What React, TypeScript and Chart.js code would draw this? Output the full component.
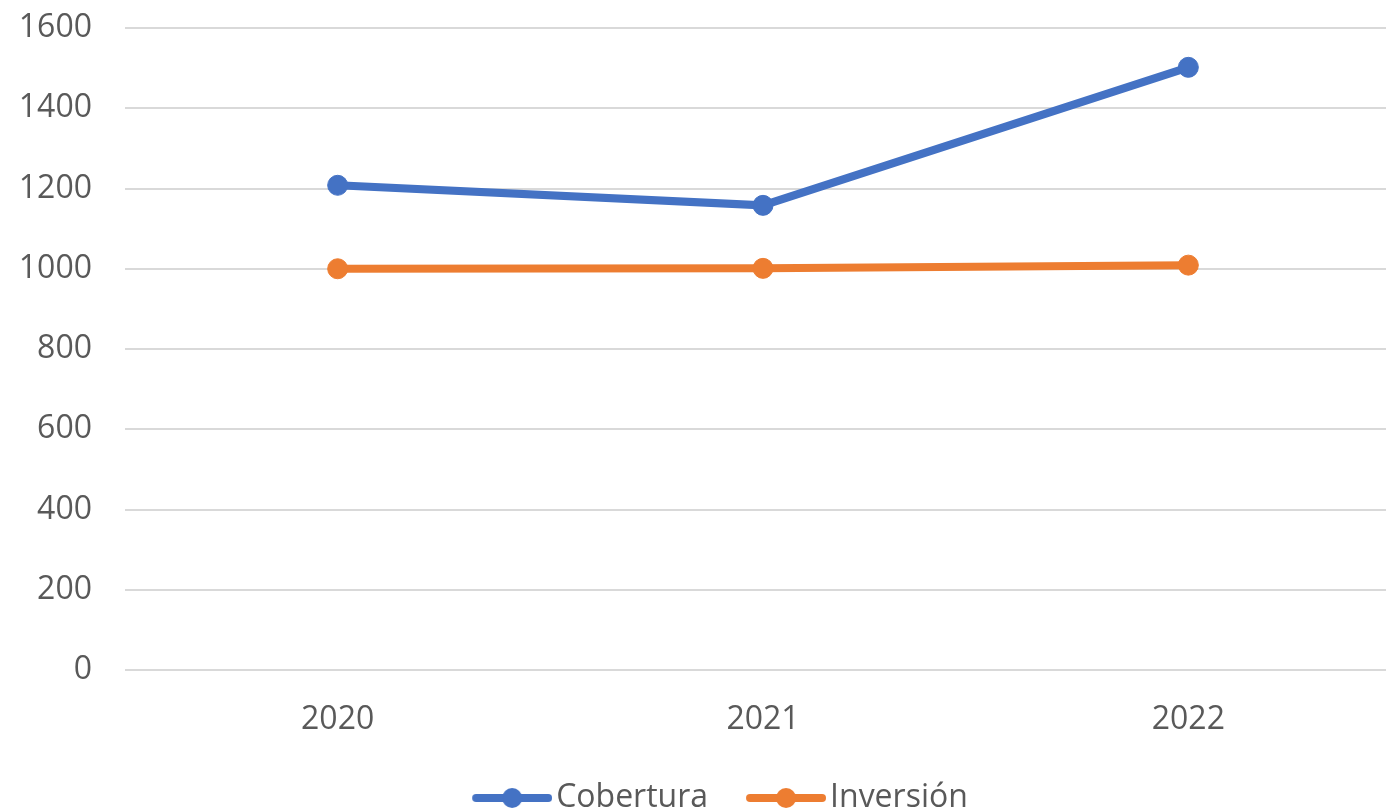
import React, { useEffect, useRef } from "react";
import { Chart, registerables } from "chart.js";

Chart.register(...registerables);

const years = ["2020", "2021", "2022"];
const cobertura = [1208, 1158, 1502];
const inversion = [1000, 1001, 1009];
const seriesNames = ["Cobertura", "Inversión"];
const seriesColors = ["#4472C4", "#ED7D31"];
const yTicks = { min: 0, max: 1600, step: 200 };

const FONT = "'Open Sans', 'Noto Sans', sans-serif";
const TEXT = "#595959";

function legendSwatch(color: string): HTMLCanvasElement {
  const c = document.createElement("canvas");
  c.width = 120;
  c.height = 24;
  const ctx = c.getContext("2d")!;
  ctx.strokeStyle = color;
  ctx.lineWidth = 8;
  ctx.lineCap = "round";
  ctx.beginPath();
  ctx.moveTo(44, 12);
  ctx.lineTo(116, 12);
  ctx.stroke();
  ctx.fillStyle = color;
  ctx.beginPath();
  ctx.arc(80, 12, 10, 0, Math.PI * 2);
  ctx.fill();
  return c;
}

export default function App() {
  const ref = useRef<HTMLCanvasElement | null>(null);

  useEffect(() => {
    if (!ref.current) return;
    const swatches = seriesColors.map(legendSwatch);
    const chart = new Chart(ref.current, {
      type: "line",
      data: {
        labels: years,
        datasets: [
          {
            label: seriesNames[0],
            data: cobertura,
            borderColor: seriesColors[0],
            backgroundColor: seriesColors[0],
            borderWidth: 8,
            pointRadius: 10,
            pointBorderWidth: 1,
            pointBackgroundColor: seriesColors[0],
            pointBorderColor: seriesColors[0],
            tension: 0,
          },
          {
            label: seriesNames[1],
            data: inversion,
            borderColor: seriesColors[1],
            backgroundColor: seriesColors[1],
            borderWidth: 8,
            pointRadius: 10,
            pointBorderWidth: 1,
            pointBackgroundColor: seriesColors[1],
            pointBorderColor: seriesColors[1],
            tension: 0,
          },
        ],
      },
      options: {
        responsive: false,
        animation: false,
        layout: { padding: { top: 28, left: 0, right: 0, bottom: 0 } },
        plugins: {
          tooltip: { enabled: false },
          legend: {
            position: "bottom",
            labels: {
              usePointStyle: true,
              pointStyleWidth: 96,
              padding: 10,
              color: TEXT,
              font: { family: FONT, size: 32 },
              generateLabels: (chart: any) =>
                chart.data.datasets.map((ds: any, i: number) => ({
                  text: ds.label,
                  fillStyle: ds.borderColor,
                  strokeStyle: ds.borderColor,
                  lineWidth: 0,
                  pointStyle: swatches[i],
                  hidden: false,
                  datasetIndex: i,
                  fontColor: TEXT,
                })),
            },
          },
        },
        scales: {
          x: {
            offset: true,
            grid: { display: false },
            border: { display: false },
            afterFit: (scale: any) => {
              scale.height = 102;
            },
            ticks: {
              color: TEXT,
              font: { family: FONT, size: 32 },
              padding: 23,
            },
          },
          y: {
            min: yTicks.min,
            max: yTicks.max,
            afterFit: (scale: any) => {
              scale.width = 125;
            },
            border: { display: false },
            grid: {
              color: "#D9D9D9",
              lineWidth: 2,
              drawTicks: true,
              tickLength: 33,
              tickColor: "rgba(0,0,0,0)",
            },
            ticks: {
              stepSize: yTicks.step,
              color: TEXT,
              font: { family: FONT, size: 32 },
              padding: 0,
              callback: (v: any) => String(v),
            },
          },
        },
      },
    });
    return () => chart.destroy();
  }, []);

  return (
    <div style={{ position: "fixed", left: 0, top: 0, width: 1386, height: 811, overflow: "hidden", background: "#fff" }}>
      <canvas ref={ref} width={1412} height={824} style={{ width: 1412, height: 824, display: "block" }} />
    </div>
  );
}
